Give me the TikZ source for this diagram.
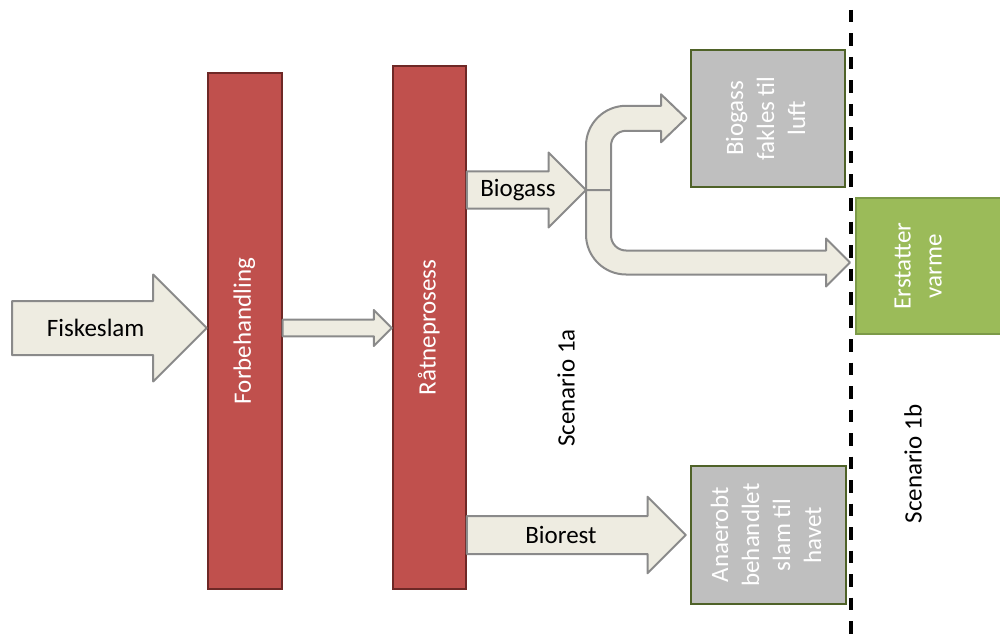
\documentclass[tikz,border=0pt]{standalone}
\usepackage{fontspec}
\setmainfont{Carlito}
\usepackage{graphicx}
\usetikzlibrary{shapes,positioning,arrows,calc}
\definecolor{stagefill}{HTML}{C0504D}
\definecolor{stageline}{HTML}{6E2826}
\definecolor{flarefill}{HTML}{BFBFBF}
\definecolor{flareline}{HTML}{4F6228}
\definecolor{heatfill}{HTML}{9BBB59}
\definecolor{heatline}{HTML}{7C9A48}
\definecolor{flowfill}{HTML}{EEECE1}
\definecolor{flowline}{HTML}{8A8A8A}

\newcommand{\vtext}[1]{\rotatebox{90}{\begin{tabular}{@{}c@{}}#1\end{tabular}}}

% block arrow: tail, tip, half body, half head, label
\newcommand{\flowarrow}[5]{%
  \draw[flow] let \p1=(#1), \p2=(#2) in
    (\x1,\y2+#3) -- (\x2-#4,\y2+#3) -- (\x2-#4,\y2+#4) -- (\x2,\y2)
    -- (\x2-#4,\y2-#4) -- (\x2-#4,\y2-#3) -- (\x1,\y2-#3) -- cycle
    ({0.57*\x1+0.43*\x2},\y2) node[flowtext] {#5};}

\begin{document}
\begin{tikzpicture}[x=1pt,y=-1pt,font=\fontsize{25}{31}\selectfont]

    \tikzstyle{stage}=[draw=stageline, fill=stagefill, line width=2pt, text=white, inner sep=0pt]
    \tikzstyle{result}=[draw=flareline, fill=flarefill, line width=2pt, text=white, inner sep=0pt]
    \tikzstyle{gain}=[result, draw=heatline, fill=heatfill]
    \tikzstyle{flow}=[draw=flowline, fill=flowfill, line width=2pt, line join=round]
    \tikzstyle{flowtext}=[text=black]
    \tikzstyle{scenario}=[rotate=90, text=black]
    \tikzstyle{divider}=[black, line width=3.2pt, dash pattern=on 12.5pt off 11pt]

    \useasboundingbox (0,0) rectangle (1000,639);

    \node[stage, minimum width=74pt, minimum height=516pt] (fb) at (244.7,331) {\vtext{Forbehandling}};
    \node[stage, minimum width=73pt, minimum height=523pt] (rp) at (429.3,327.3) {\vtext{Råtneprosess}};
    \node[result, minimum width=154pt, minimum height=137pt] (flare) at (768,118.3) {\vtext{Biogass\\fakles til\\luft}};
    \node[result, minimum width=155pt, minimum height=138pt] (sea) at (768.3,535) {\vtext{Anaerobt\\behandlet\\slam til\\havet}};
    \node[gain, minimum width=156pt, minimum height=136pt] (heat) at (934,266) {\vtext{Erstatter\\varme}\kern28pt};

    \coordinate (slam) at (12,328);
    \coordinate (split) at (586,190);

    \flowarrow{slam}{fb.west |- slam}{27pt}{53.5pt}{Fiskeslam}
    \flowarrow{fb.east |- slam}{rp.west |- slam}{8.3pt}{18pt}{}
    \flowarrow{rp.east |- sea}{$(sea.west)+(-4,0)$}{19pt}{38.3pt}{Biorest}

    % biogas split: flaring and heat
    \draw[flow] let \p1=(split), \p2=($(flare.west)+(-4,0)$) in
      (\x1,\y1) -- (\x1,\y2-27.5pt) arc[start angle=180, end angle=90, radius=40pt]
      -- (\x2-25pt,\y2+12.5pt) -- (\x2-25pt,\y2+24pt) -- (\x2,\y2)
      -- (\x2-25pt,\y2-24pt) -- (\x2-25pt,\y2-12.5pt) -- (\x1+40pt,\y2-12.5pt)
      arc[start angle=90, end angle=180, radius=15pt] -- (\x1+25pt,\y1) -- cycle;
    \draw[flow] let \p1=(split), \p2=($(heat.west)+(-5,-3.5)$) in
      (\x1,\y1) -- (\x1,\y2+28pt) arc[start angle=180, end angle=270, radius=40pt]
      -- (\x2-24pt,\y2-12pt) -- (\x2-24pt,\y2-24pt) -- (\x2,\y2)
      -- (\x2-24pt,\y2+24pt) -- (\x2-24pt,\y2+12pt) -- (\x1+40pt,\y2+12pt)
      arc[start angle=270, end angle=180, radius=15pt] -- (\x1+25pt,\y1) -- cycle;

    \flowarrow{rp.east |- split}{split}{18.5pt}{37.5pt}{Biogass}

    \node[scenario] (s1a) at (566,388) {Scenario 1a};
    \node[scenario] (s1b) at (913,464) {Scenario 1b};

    \draw[divider] (851,10) -- (851,639);

\end{tikzpicture}
\end{document}
